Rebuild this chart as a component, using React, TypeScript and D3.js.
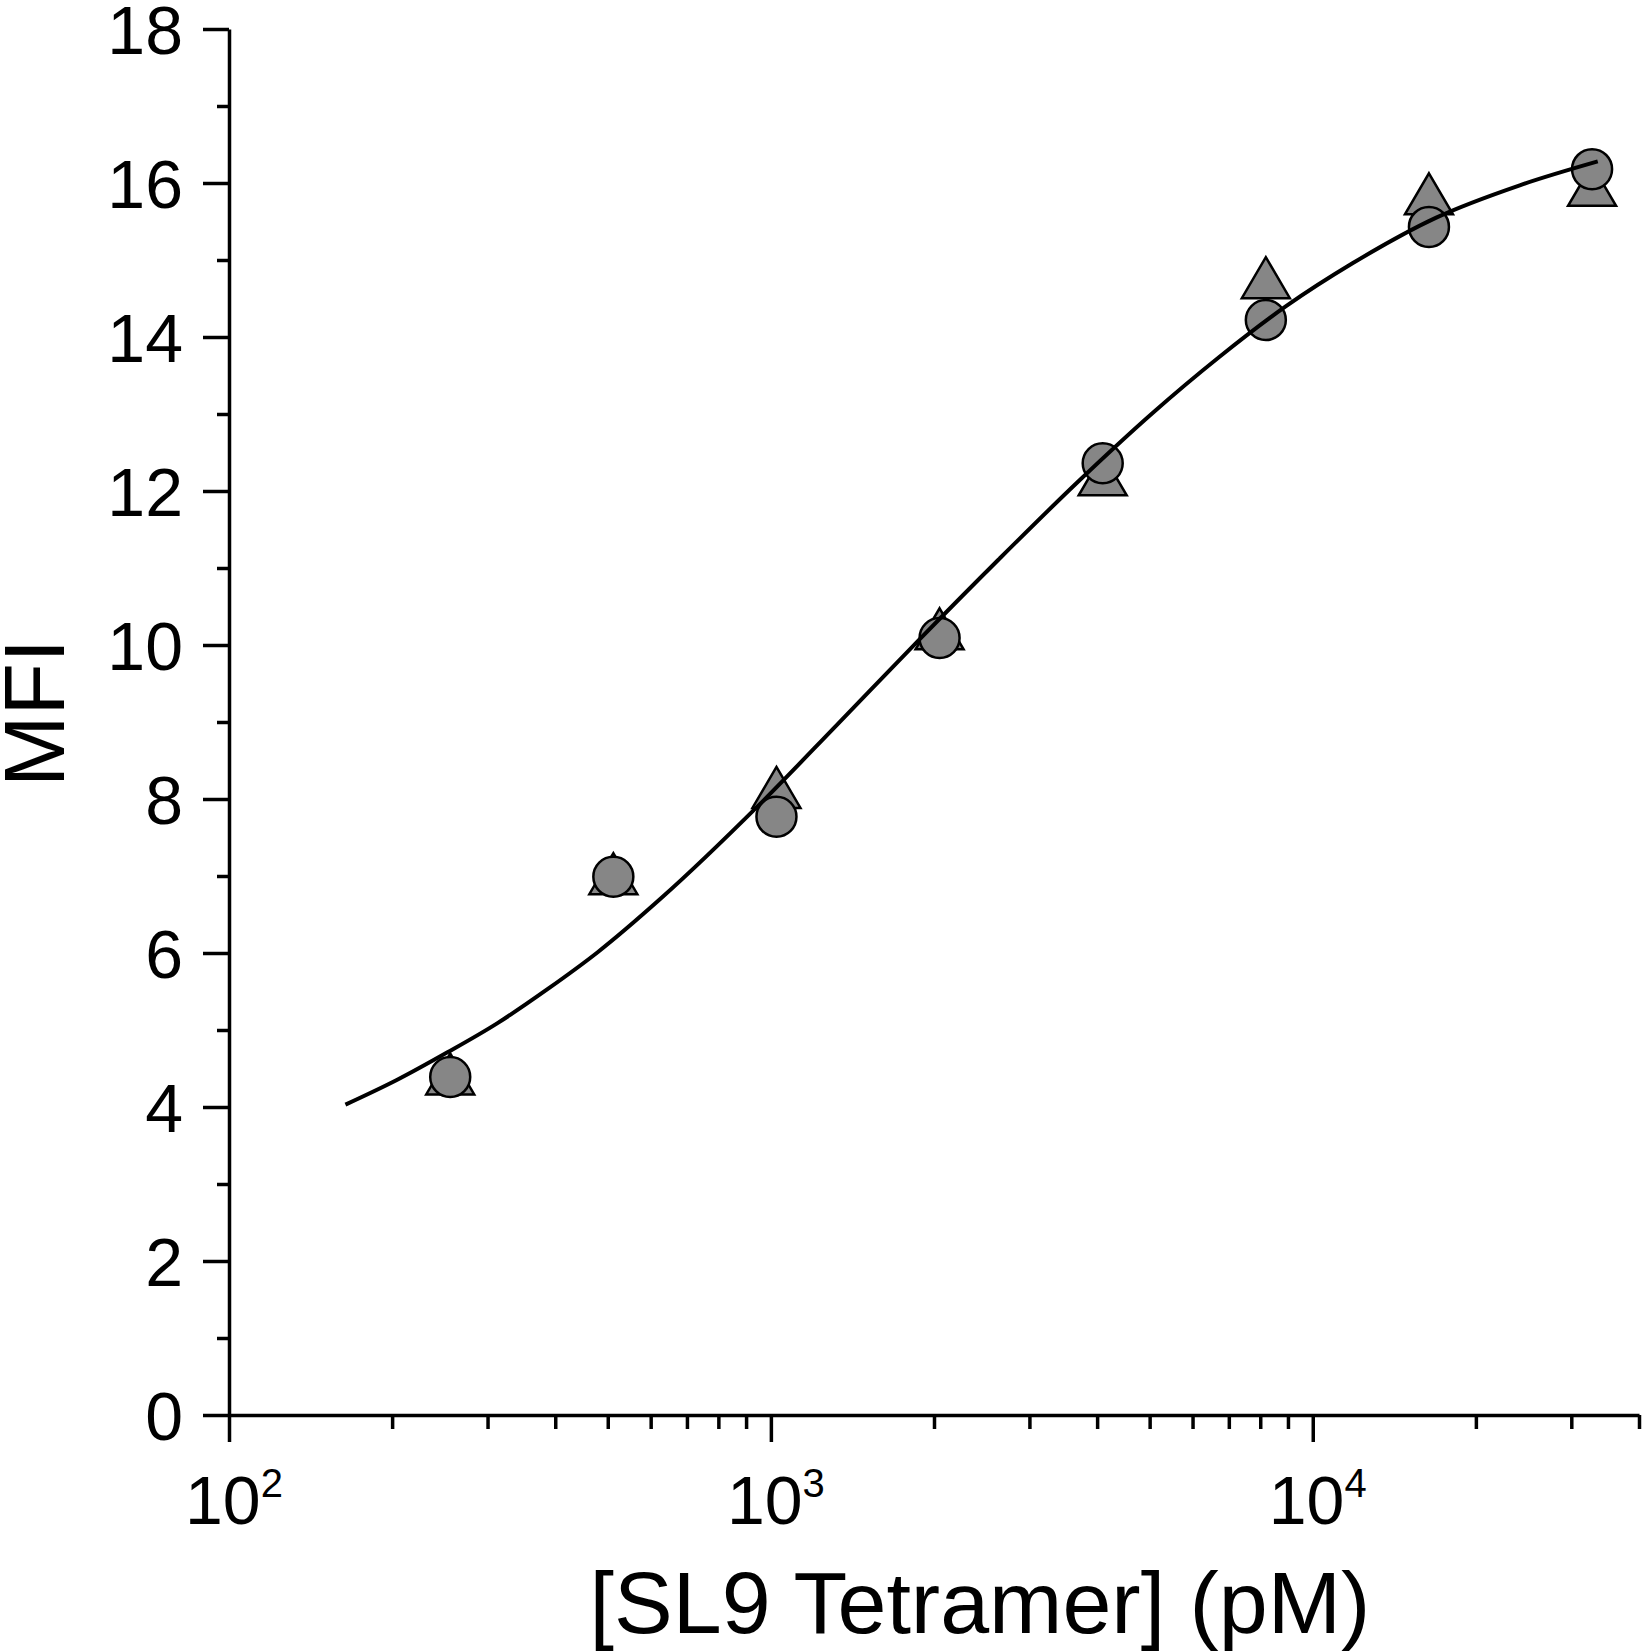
import { useEffect, useRef } from "react";
import * as d3 from "d3";

// tetramer dilution series (pM)
const concentrations = [256, 512, 1024, 2048, 4096, 8192, 16384, 32768];
const circleMFI = [4.39, 6.99, 7.77, 10.09, 12.36, 14.22, 15.43, 16.18];
const triangleMFI = [4.43, 7.03, 8.15, 10.21, 12.21, 14.77, 15.86, 15.97];

// fitted curve
const fitX = [164, 204, 253, 313, 387, 479, 627, 947, 1331, 1873, 2632, 3700, 5058, 6721, 8928, 11860, 16900, 24100, 33570];
const fitMFI = [4.03, 4.35, 4.71, 5.09, 5.53, 6.01, 6.71, 7.91, 8.98, 10.06, 11.11, 12.13, 13.01, 13.74, 14.4, 14.96, 15.55, 15.97, 16.28];

const yMajor = [0, 2, 4, 6, 8, 10, 12, 14, 16, 18];
const yMinor = [1, 3, 5, 7, 9, 11, 13, 15, 17];
const xMajor = [100, 1000, 10000];
const xMinor = [200, 300, 400, 500, 600, 700, 800, 900, 2000, 3000, 4000, 5000, 6000, 7000, 8000, 9000, 20000, 30000, 40000];

const W = 1643;
const H = 1651;
const FONT = "'Liberation Sans', Arial, Helvetica, sans-serif";
const FILL = "#868686";

export default function App() {
    const svgRef = useRef<SVGSVGElement>(null);

    useEffect(() => {
        if (!svgRef.current) return;
        const svg = d3.select(svgRef.current);
        svg.selectAll("*").remove();

        const margin = { top: 29, right: 4, bottom: 236, left: 229 };
        const x = d3.scaleLog().domain([100, 40000]).range([margin.left, W - margin.right]);
        const y = d3.scaleLinear().domain([0, 18]).range([H - margin.bottom, margin.top]);
        const y0 = y(0);

        // y axis
        const gy = svg.append("g").attr("transform", `translate(${margin.left},0)`);
        gy.call(d3.axisLeft(y).tickValues(yMajor).tickSize(26).tickSizeOuter(0).tickFormat(d3.format("d")) as any);
        gy.append("g").call(d3.axisLeft(y).tickValues(yMinor).tickSize(12).tickFormat(() => "") as any)
            .select(".domain").remove();
        gy.selectAll("line").attr("stroke", "#000").attr("stroke-width", 3.5);
        gy.select(".domain").attr("stroke", "#000").attr("stroke-width", 3.5);
        gy.selectAll("text")
            .attr("font-family", FONT)
            .attr("font-size", 68)
            .attr("fill", "#000")
            .attr("x", -46)
            .attr("dy", "0.36em");

        // x axis
        const gx = svg.append("g").attr("transform", `translate(0,${y0})`);
        gx.call(d3.axisBottom(x).tickValues(xMajor).tickSize(27).tickSizeOuter(0).tickFormat(() => "") as any);
        gx.append("g").call(d3.axisBottom(x).tickValues(xMinor).tickSize(14).tickFormat(() => "") as any)
            .select(".domain").remove();
        gx.selectAll("line").attr("stroke", "#000").attr("stroke-width", 3.5);
        gx.select(".domain").attr("stroke", "#000").attr("stroke-width", 3.5);

        const xl = svg.append("g");
        xMajor.forEach((v) => {
            const t = xl.append("text")
                .attr("x", x(v) + 5)
                .attr("y", 1524)
                .attr("text-anchor", "middle")
                .attr("font-family", FONT)
                .attr("font-size", 68)
                .attr("fill", "#000");
            t.append("tspan").text("10");
            t.append("tspan")
                .attr("font-size", 40)
                .attr("dy", -27)
                .text(String(Math.round(Math.log10(v))));
        });

        // axis titles
        svg.append("text")
            .attr("x", 980)
            .attr("y", 1633)
            .attr("text-anchor", "middle")
            .attr("font-family", FONT)
            .attr("font-size", 88)
            .attr("fill", "#000")
            .text("[SL9 Tetramer] (pM)");

        svg.append("text")
            .attr("transform", `translate(64,713) rotate(-90)`)
            .attr("text-anchor", "middle")
            .attr("font-family", FONT)
            .attr("font-size", 86)
            .attr("fill", "#000")
            .text("MFI");

        // triangles
        const tri = "M0,-20.5L24,20.5L-24,20.5Z";
        svg.append("g")
            .selectAll("path")
            .data(concentrations)
            .enter()
            .append("path")
            .attr("d", tri)
            .attr("transform", (d, i) => `translate(${x(d)},${y(triangleMFI[i])})`)
            .attr("fill", FILL)
            .attr("stroke", "#000")
            .attr("stroke-width", 2.5)
            .attr("stroke-linejoin", "miter");

        // circles
        svg.append("g")
            .selectAll("circle")
            .data(concentrations)
            .enter()
            .append("circle")
            .attr("cx", (d) => x(d))
            .attr("cy", (d, i) => y(circleMFI[i]))
            .attr("r", 20)
            .attr("fill", FILL)
            .attr("stroke", "#000")
            .attr("stroke-width", 2.5);

        // fit
        const line = d3.line<number>()
            .x((d) => x(d))
            .y((d, i) => y(fitMFI[i]))
            .curve(d3.curveMonotoneX);
        svg.append("path")
            .attr("d", line(fitX) ?? "")
            .attr("fill", "none")
            .attr("stroke", "#000")
            .attr("stroke-width", 4);
    }, []);

    return (
        <svg
            ref={svgRef}
            width={W}
            height={H}
            style={{ position: "absolute", left: 0, top: 0, background: "#fff" }}
        />
    );
}
